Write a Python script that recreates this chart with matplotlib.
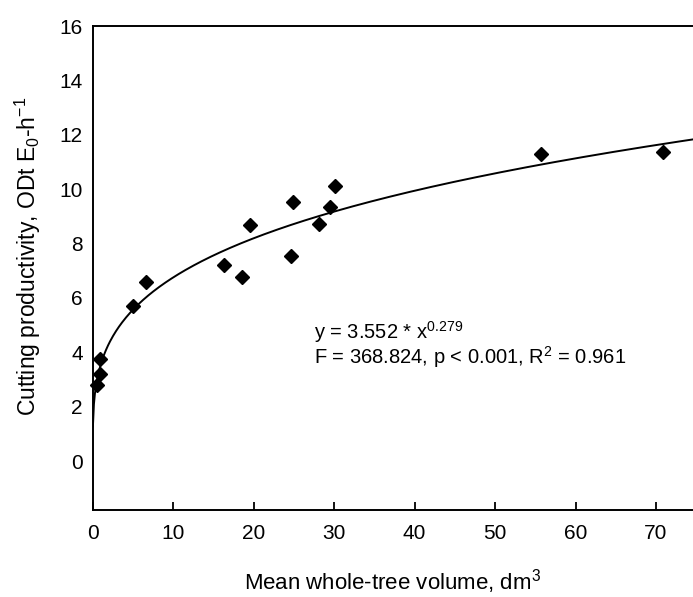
import matplotlib
matplotlib.use('Agg')
import matplotlib.pyplot as plt
import numpy as np

plt.rcParams['font.family'] = ['Liberation Sans', 'DejaVu Sans']
plt.rcParams['mathtext.fontset'] = 'custom'
plt.rcParams['mathtext.rm'] = 'Liberation Sans'
plt.rcParams['mathtext.default'] = 'regular'

volume = [0.5, 0.9, 0.9, 5.0, 6.6, 16.3, 18.6, 19.5, 24.7, 24.9, 28.1, 29.5, 30.1, 55.7, 70.9]
productivity = [2.8, 3.21, 3.75, 5.69, 6.58, 7.20, 6.76, 8.67, 7.53, 9.52, 8.73, 9.36, 10.10, 11.28, 11.36]

# 拟合参数
coef_a = 3.552
coef_b = 0.279
fit_text_1 = r'y = 3.552 * x$^{0.279}$'
fit_text_2 = r'F = 368.824, p < 0.001, R$^{2}$ = 0.961'

x_ticks = [0, 10, 20, 30, 40, 50, 60, 70]
y_ticks = [0, 2, 4, 6, 8, 10, 12, 14, 16]

fig = plt.figure(figsize=(6.93, 5.97), dpi=100)
ax = fig.add_axes([92.7 / 693, 1 - 510 / 597, 1 - 92.7 / 693, (510 - 26) / 597])

# 拟合曲线
xs = np.linspace(0.025, 75, 600)
ax.plot(xs, coef_a * xs ** coef_b, color='black', lw=1.4, zorder=2)

# 数据点
ax.plot(volume, productivity, linestyle='none', marker='D', markersize=6.8,
        color='black', zorder=3, clip_on=False)

ax.set_xlim(0, 74.6)
ax.set_ylim(-1.8, 16)
ax.set_xticks(x_ticks)
ax.set_yticks(y_ticks)
ax.tick_params(axis='x', direction='in', length=6, width=1.3, labelsize=15, pad=10)
ax.tick_params(axis='y', length=0, labelsize=15, pad=7)
ax.spines['right'].set_visible(False)
for s in ['left', 'top', 'bottom']:
    ax.spines[s].set_linewidth(1.4)

# 回归方程
ax.text(0.3687, 0.353, fit_text_1, transform=ax.transAxes, fontsize=14.5, va='baseline')
ax.text(0.3687, 0.303, fit_text_2, transform=ax.transAxes, fontsize=14.5, va='baseline')

fig.text(393 / 693, 1 - 589 / 597, r'Mean whole-tree volume, dm$^{3}$',
         ha='center', va='baseline', fontsize=16)
fig.text(36 / 693, 1 - 256 / 597, r'Cutting productivity, ODt E$_{0}$-h$^{-1}$',
         ha='center', va='baseline', rotation=90, rotation_mode='anchor', fontsize=16.5)

fig.savefig('out.png', dpi=100)
